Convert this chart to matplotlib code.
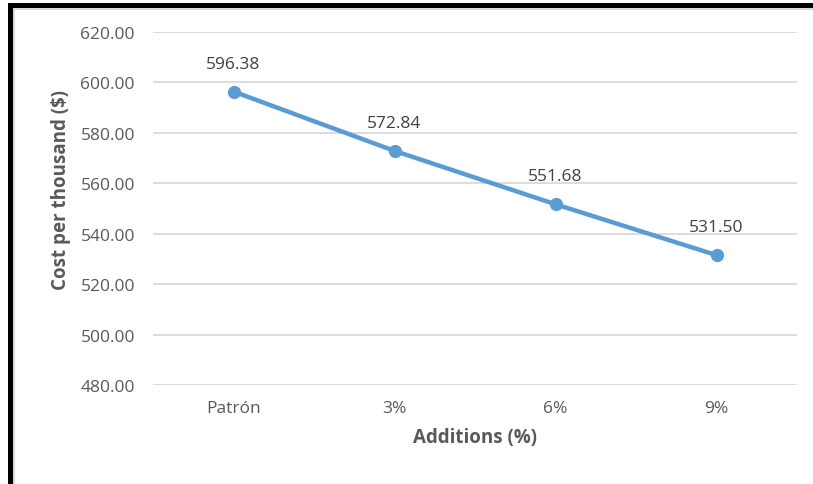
import matplotlib
matplotlib.use("Agg")
import matplotlib.pyplot as plt
from matplotlib.patches import Rectangle

categories = ["Patrón", "3%", "6%", "9%"]
costs = [596.38, 572.84, 551.68, 531.50]
yticks = [480, 500, 520, 540, 560, 580, 600, 620]

plt.rcParams['font.family'] = ['Open Sans', 'DejaVu Sans']
gray = '#595959'
blue = '#5B9BD5'

fig = plt.figure(figsize=(8.13, 4.85), dpi=100)
ax = fig.add_axes([153/813, 1-386/485, 644/813, 353/485])

x = list(range(len(categories)))
ax.plot(x, costs, color=blue, lw=3.2, marker='o', ms=8.5, solid_capstyle='round', zorder=3)
for xi, v in zip(x, costs):
    ax.annotate(f"{v:.2f}", (xi, v), xytext=(0, 20), textcoords='offset points',
                ha='center', va='center', fontsize=12.5, color='#404040')

ax.set_xlim(-0.5, len(categories)-0.5)
ax.set_ylim(480, 620)
ax.set_yticks(yticks)
ax.set_yticklabels([f"{t:.2f}" for t in yticks])
ax.set_xticks(x)
ax.set_xticklabels(categories)
ax.tick_params(axis='both', length=0, labelsize=12.5, labelcolor=gray)
ax.tick_params(axis='y', pad=13)
ax.tick_params(axis='x', pad=11)
ax.grid(axis='y', color='#D9D9D9', lw=1.3)
ax.set_axisbelow(True)
for s in ax.spines.values():
    s.set_visible(False)

ax.set_xlabel("Additions (%)", fontsize=13.5, fontweight='bold', color=gray, labelpad=8)
ax.set_ylabel("Cost per thousand ($)", fontsize=13.5, fontweight='bold', color=gray)
ax.yaxis.set_label_coords(-0.127, 0.555)

# frame borders
fig.patches.append(Rectangle((8/813, 0), 5/813, 1-4/485, transform=fig.transFigure,
                             facecolor='black', edgecolor='none', zorder=10))
fig.patches.append(Rectangle((8/813, 1-9/485), 1-8/813, 5/485, transform=fig.transFigure,
                             facecolor='black', edgecolor='none', zorder=10))
fig.patches.append(Rectangle((13/813, 0), 2/813, 1-9/485, transform=fig.transFigure,
                             facecolor='#D9D9D9', edgecolor='none', zorder=9))
fig.patches.append(Rectangle((13/813, 1-11/485), 1-13/813, 2/485, transform=fig.transFigure,
                             facecolor='#D9D9D9', edgecolor='none', zorder=9))

fig.savefig("out.png", dpi=100)
